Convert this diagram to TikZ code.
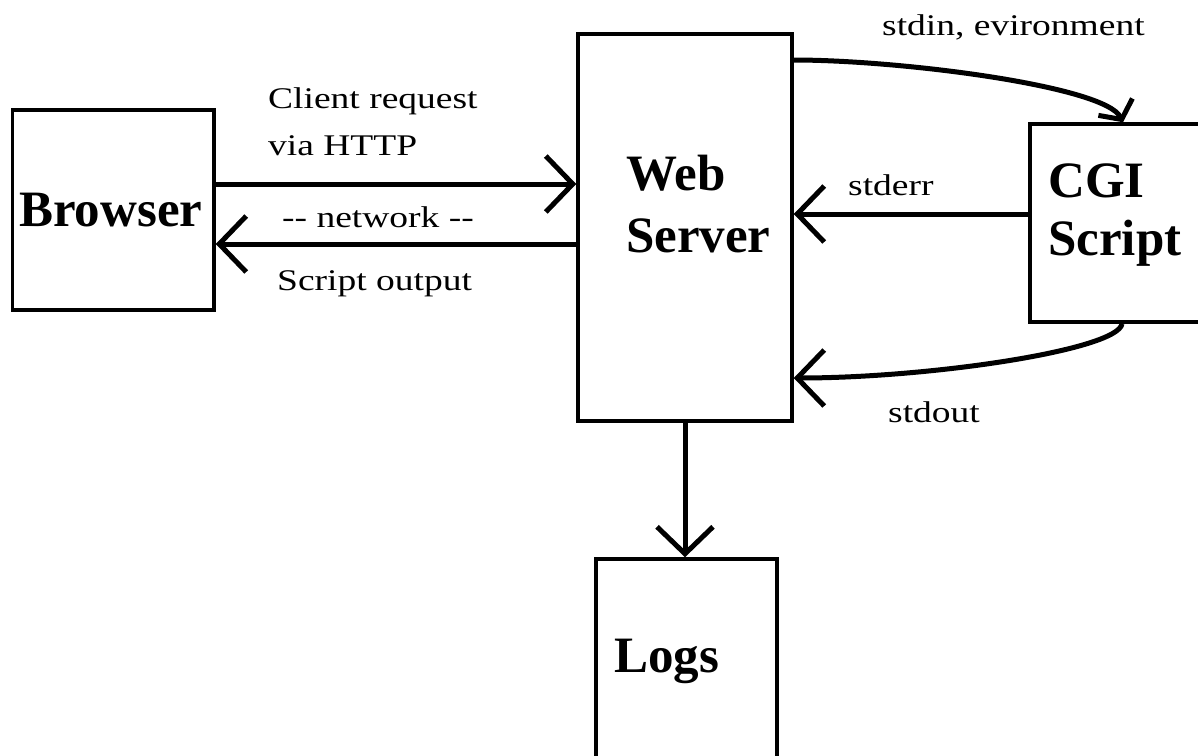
\documentclass[tikz,border=0pt]{standalone}
\usepackage{fontspec}
\setmainfont{Liberation Serif}[FakeStretch=1.25]
\newfontfamily\boxfont{Liberation Serif}
\usetikzlibrary{arrows.meta}

\tikzset{
  box/.style={draw, line width=3.5pt, inner sep=0pt, rectangle},
  flow/.style={line width=5pt, -{Straight Barb[length=27pt,width=56pt]}},
  smallflow/.style={line width=5pt, -{Straight Barb[length=14pt,width=38pt]}},
  lbl/.style={anchor=base west, inner sep=0pt, font=\fontsize{30}{36}\selectfont},
  title/.style={anchor=base west, inner sep=0pt, font=\boxfont\bfseries\fontsize{51}{60}\selectfont}
}

\begin{document}
\begin{tikzpicture}[x=1pt, y=-1pt]
  \useasboundingbox (0,0) rectangle (1198,755);
  \clip (0,0) rectangle (1198,755);

  % boxes
  \node[box, minimum width=201.5pt, minimum height=200pt] (browser) at (113.25,210) {};
  \node[box, minimum width=214pt, minimum height=387pt] (server) at (685,227.5) {};
  \node[box, minimum width=180pt, minimum height=198pt] (cgi) at (1120,223) {};
  \node[box, minimum width=181pt, minimum height=231pt] (logs) at (686.5,674.5) {};

  % box titles
  \node[title] (tbrowser) at (19,226) {Browser};
  \node[title] (tweb) at (626,190) {Web};
  \node[title] (tserver) at (626,252) {Server};
  \node[title] (tcgi) at (1048,197) {CGI};
  \node[title] (tscript) at (1048,255) {Script};
  \node[title] (tlogs) at (614,672) {Logs};

  % browser <-> web server
  \draw[flow] (browser.east |- 0,184) -- (server.west |- 0,184);
  \draw[flow] (server.west |- 0,244) -- (browser.east |- 0,244);
  \node[lbl] (lreq1) at (268,108) {Client request};
  \node[lbl] (lreq2) at (268,155) {via HTTP};
  \node[lbl] (lnet) at (282,227) {-{}- network -{}-};
  \node[lbl] (lout) at (277,290) {Script output};

  % web server <-> CGI script
  \draw[smallflow] (server.east |- 0,60) .. controls (900,60) and (1105,86) .. (cgi.north -| 1123,0);
  \draw[flow] (cgi.west |- 0,214) -- (server.east |- 0,214);
  \draw[flow] (cgi.south -| 1122,0) .. controls (1118,350) and (930,378) .. (server.east |- 0,378);
  \node[lbl] (lstdin) at (882,35) {stdin, evironment};
  \node[lbl] (lstderr) at (848,195) {stderr};
  \node[lbl] (lstdout) at (888,422) {stdout};

  % web server -> logs
  \draw[flow] (server.south) -- (server.south |- logs.north);
\end{tikzpicture}
\end{document}
